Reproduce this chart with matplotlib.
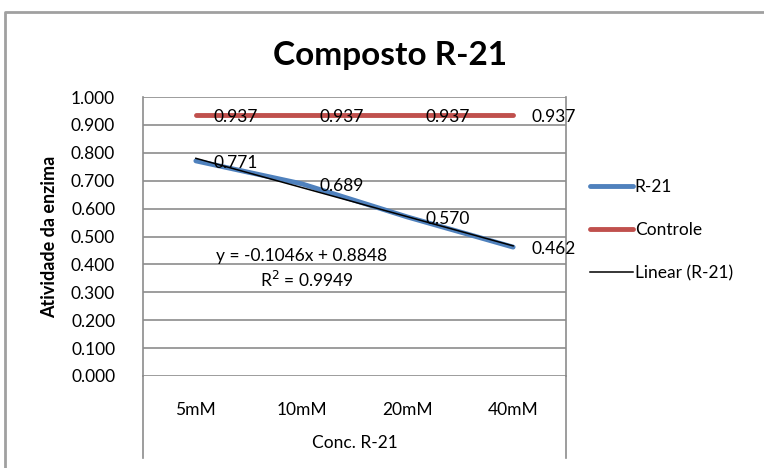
import numpy as np
import matplotlib
matplotlib.use("Agg")
import matplotlib.pyplot as plt
from matplotlib.lines import Line2D

plt.rcParams['font.family'] = ['Lato', 'DejaVu Sans']

# ── Data ───────────────────────────────────────────────────────────────
categories = ["5mM", "10mM", "20mM", "40mM"]
r21 = [0.771, 0.689, 0.570, 0.462]
controle = [0.937, 0.937, 0.937, 0.937]
yticks = [0.0, 0.1, 0.2, 0.3, 0.4, 0.5, 0.6, 0.7, 0.8, 0.9, 1.0]
trend_slope, trend_icpt, trend_r2 = -0.1046, 0.8848, 0.9949

W, H = 764, 468
fig = plt.figure(figsize=(W / 100, H / 100), dpi=100)

# plot area in pixel coords
px_l, px_r, px_t, px_b = 143, 566, 97, 376
ax = fig.add_axes([px_l / W, 1 - px_b / H, (px_r - px_l) / W, (px_b - px_t) / H])

x = np.arange(len(categories))
trend = trend_slope * (x + 1) + trend_icpt

ax.plot(x, r21, color="#4F81BD", lw=3.5, solid_capstyle="round", label="R-21", zorder=3)
ax.plot(x, controle, color="#C0504D", lw=3.5, solid_capstyle="round", label="Controle", zorder=3)
ax.plot(x, trend, color="black", lw=1.1, label="Linear (R-21)", zorder=4)

# data labels
for xi, v in zip(x, controle):
    ax.annotate(f"{v:.3f}", (xi, v), xytext=(13, -1.5), textcoords="offset points",
                ha="left", va="center", fontsize=12.5, color="black", zorder=5)
for xi, v in zip(x, r21):
    ax.annotate(f"{v:.3f}", (xi, v), xytext=(13, -1.5), textcoords="offset points",
                ha="left", va="center", fontsize=12.5, color="black", zorder=5)

ax.set_xlim(-0.5, len(categories) - 0.5)
ax.set_ylim(0, 1.0)
ax.set_yticks(yticks)
ax.set_yticklabels([f"{t:.3f}" for t in yticks], fontsize=12.5)
ax.set_xticks(x)
ax.set_xticklabels(categories, fontsize=12.5)
ax.tick_params(axis="both", length=0)
ax.tick_params(axis="y", pad=20)
ax.tick_params(axis="x", pad=19)
ax.grid(axis="y", color="#8c8c8c", lw=1.2)
ax.set_axisbelow(True)
for s in ["top", "bottom"]:
    ax.spines[s].set_visible(False)
for s in ["left", "right"]:
    ax.spines[s].set_color("#8c8c8c")
    ax.spines[s].set_linewidth(1.2)

# vertical frame lines continue below the plot area
for px in (px_l, px_r):
    fig.add_artist(Line2D([px / W, px / W], [1 - px_b / H, 1 - 458 / H],
                          color="#8c8c8c", lw=1.2))

ax.set_xlabel("Conc. R-21", fontsize=12.5, labelpad=12)
ax.set_ylabel("Atividade da enzima", fontsize=13, fontweight="bold", labelpad=9)

# trendline equation
ax.text(1.0, 0.43, f"y = {trend_slope}x + {trend_icpt}", ha="center", va="center", fontsize=12.5)
ax.text(1.05, 0.345, f"R$^2$ = {trend_r2}", ha="center", va="center", fontsize=12.5)

fig.suptitle("Composto R-21", x=390 / W, y=1 - 55 / H, va="center",
             fontsize=24, fontweight="bold")

leg = fig.legend(loc="center left", bbox_to_anchor=(574 / W, 1 - 230 / H), frameon=False,
                 fontsize=12.5, handlelength=2.5, handletextpad=0.1, labelspacing=1.55)

# outer chart border
fig.add_artist(Line2D([5 / W, 5 / W, 1.0], [0, 1 - 12 / H, 1 - 12 / H],
                      color="#a0a0a0", lw=2))

fig.savefig("out.png", dpi=100)
